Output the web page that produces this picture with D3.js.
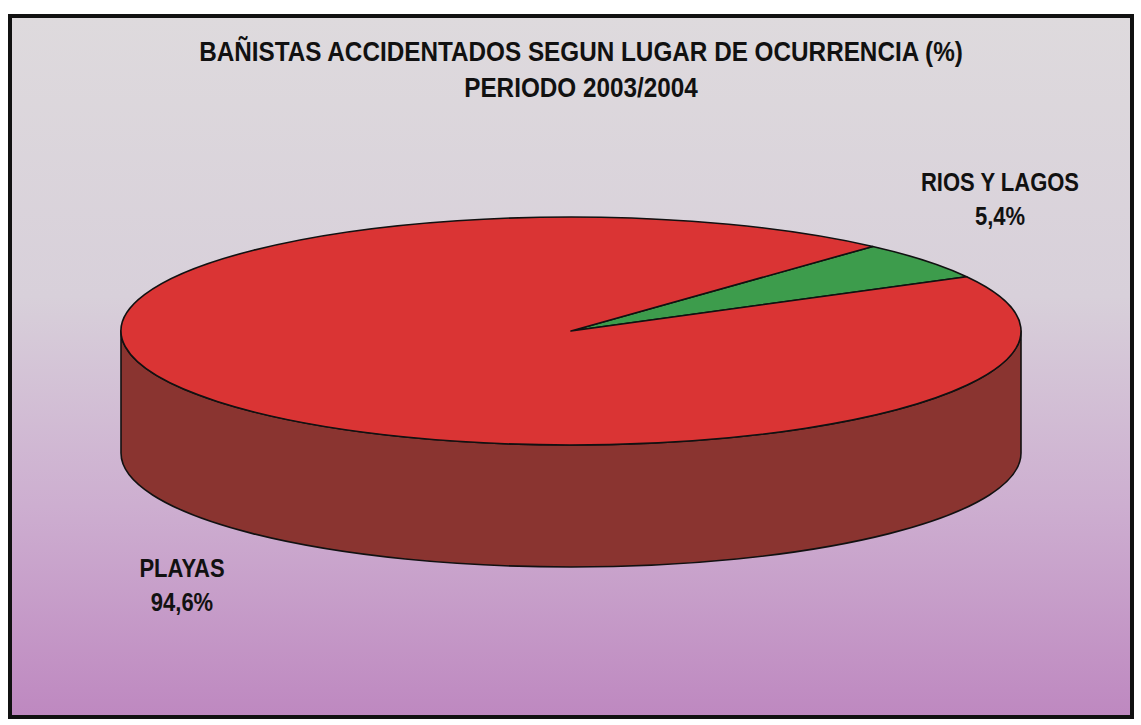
<!DOCTYPE html>
<html>
<head>
<meta charset="utf-8">
<script src="https://cdn.jsdelivr.net/npm/d3@7"></script>
<style>
  html, body { margin: 0; padding: 0; background: #fff; }
  svg { display: block; }
  text { font-family: "Liberation Sans", Arial, sans-serif; font-weight: bold; }
</style>
</head>
<body>
<svg id="chart"></svg>
<script>
const titleLines = ['BAÑISTAS ACCIDENTADOS SEGUN LUGAR DE OCURRENCIA (%)', 'PERIODO 2003/2004'];
const categories = ['RIOS Y LAGOS', 'PLAYAS'];
const values     = [5.4, 94.6];
const valueLabels = ['5,4%', '94,6%'];

const W = 1141, H = 725;
const topColors  = ['#3d9c4c', '#da3434'];
const sideColors = ['#2a6e35', '#8a3430'];

const svg = d3.select('#chart').attr('width', W).attr('height', H);

const defs = svg.append('defs');
const grad = defs.append('linearGradient')
  .attr('id', 'bg').attr('x1', 0).attr('y1', 0).attr('x2', 0).attr('y2', 1);
grad.append('stop').attr('offset', '0%').attr('stop-color', '#dedadd');
grad.append('stop').attr('offset', '40%').attr('stop-color', '#d8d0da');
grad.append('stop').attr('offset', '70%').attr('stop-color', '#cdaed0');
grad.append('stop').attr('offset', '100%').attr('stop-color', '#be88c0');

svg.append('rect')
  .attr('x', 10).attr('y', 16).attr('width', 1122).attr('height', 701)
  .attr('fill', 'url(#bg)')
  .attr('stroke', '#111').attr('stroke-width', 4);

// no narrow font installed: squeeze Liberation Sans horizontally
const squeeze = 0.9;

svg.selectAll('.title')
  .data(titleLines)
  .enter()
  .append('text')
  .attr('transform', (d, i) => `translate(581, ${61 + i * 36}) scale(${squeeze}, 1)`)
  .attr('text-anchor', 'middle')
  .attr('font-size', 27)
  .attr('fill', '#111')
  .text(d => d);

// 3D pie
const cx = 571, cy = 331, rx = 450, ry = 114, depth = 122;

const pie = d3.pie()
  .sort(null)
  .value(d => d)
  .startAngle(0.735)
  .endAngle(0.735 + 2 * Math.PI);

const arcs = pie(values);

const px = a => cx + rx * Math.sin(a);
const py = a => cy - ry * Math.cos(a);

// side walls, only the front half shows (angles between PI/2 and 3PI/2)
const walls = [];
arcs.forEach((a, i) => {
  for (let k = -1; k <= 1; k++) {
    const lo = Math.max(a.startAngle, Math.PI / 2 + k * 2 * Math.PI);
    const hi = Math.min(a.endAngle, 3 * Math.PI / 2 + k * 2 * Math.PI);
    if (hi > lo) walls.push({ i, a0: lo, a1: hi });
  }
});

svg.selectAll('.wall')
  .data(walls)
  .enter()
  .append('path')
  .attr('class', 'wall')
  .attr('d', w => {
    const large = (w.a1 - w.a0) > Math.PI ? 1 : 0;
    return `M${px(w.a0)},${py(w.a0)}` +
      `A${rx},${ry} 0 ${large} 1 ${px(w.a1)},${py(w.a1)}` +
      `L${px(w.a1)},${py(w.a1) + depth}` +
      `A${rx},${ry} 0 ${large} 0 ${px(w.a0)},${py(w.a0) + depth}Z`;
  })
  .attr('fill', w => sideColors[w.i])
  .attr('stroke', '#111')
  .attr('stroke-width', 1.6)
  .attr('stroke-linejoin', 'round');

svg.selectAll('.slice')
  .data(arcs)
  .enter()
  .append('path')
  .attr('class', 'slice')
  .attr('d', a => {
    const large = (a.endAngle - a.startAngle) > Math.PI ? 1 : 0;
    return `M${cx},${cy}L${px(a.startAngle)},${py(a.startAngle)}` +
      `A${rx},${ry} 0 ${large} 1 ${px(a.endAngle)},${py(a.endAngle)}Z`;
  })
  .attr('fill', (a, i) => topColors[i])
  .attr('stroke', '#111')
  .attr('stroke-width', 1.6)
  .attr('stroke-linejoin', 'round');

// labels
const labelPos = [[1000, 191], [182, 577]];
const labels = svg.selectAll('.lbl')
  .data(categories)
  .enter()
  .append('g')
  .attr('transform', (d, i) => `translate(${labelPos[i][0]},${labelPos[i][1]}) scale(0.88, 1)`);

labels.append('text')
  .attr('text-anchor', 'middle')
  .attr('font-size', 25)
  .attr('fill', '#111')
  .text(d => d);

labels.append('text')
  .attr('y', 34)
  .attr('text-anchor', 'middle')
  .attr('font-size', 25)
  .attr('fill', '#111')
  .text((d, i) => valueLabels[i]);
</script>
</body>
</html>
